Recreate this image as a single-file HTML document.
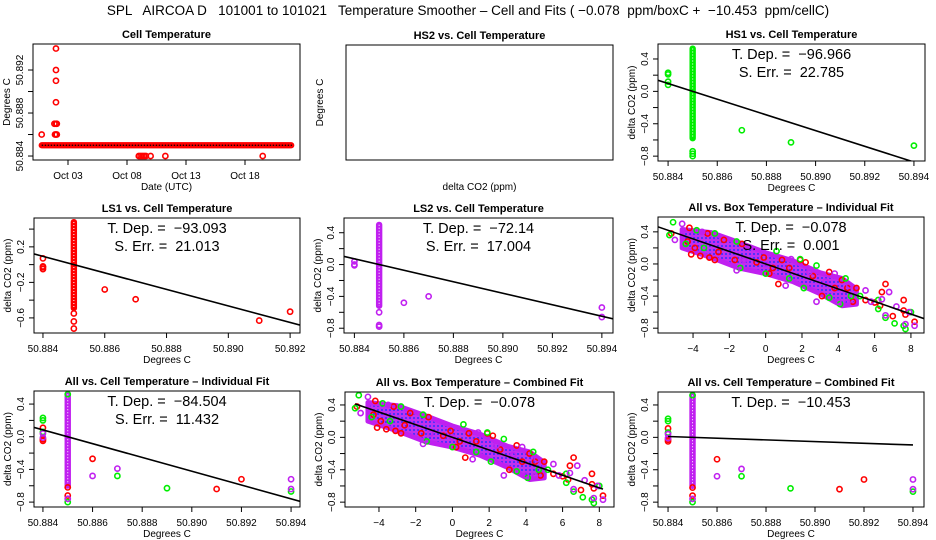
<!DOCTYPE html>
<html><head><meta charset="utf-8"><style>
html,body{margin:0;padding:0;background:#fff;}
svg{display:block;font-family:"Liberation Sans",Arial,sans-serif;}
text{white-space:pre;}
</style></head><body>
<svg id="chart" width="936" height="540" viewBox="0 0 936 540" xmlns="http://www.w3.org/2000/svg" xml:space="preserve">
<defs>
<pattern id="hatch" width="4" height="4" patternUnits="userSpaceOnUse">
<rect width="4" height="4" fill="#c030f0"/><circle cx="2" cy="2" r="1" fill="#3030ff"/>
</pattern>
</defs>
<text x="468" y="15" font-size="13.5" text-anchor="middle">SPL   AIRCOA D   101001 to 101021   Temperature Smoother – Cell and Fits ( −0.078  ppm/boxC +  −10.453  ppm/cellC)</text>
</svg>
<script>
// ---------- data ----------
const cellBaseValue = 50.885;
const cellBaseStart = 0.77, cellBaseEnd = 21.98;
const cellOutDays = [0.77, 1.98, 1.98, 1.98, 1.98, 1.98, 1.85, 2.05, 1.98, 1.9, 2.05, 9.0, 9.15, 9.3, 9.45, 9.6, 10.0, 11.25, 19.5];
const cellOutVals = [50.886, 50.894, 50.892, 50.891, 50.889, 50.887, 50.887, 50.887, 50.886, 50.886, 50.886, 50.884, 50.884, 50.884, 50.884, 50.884, 50.884, 50.884, 50.884];
const p1XTicks = [3, 8, 13, 18];
const p1XLabels = ["Oct 03", "Oct 08", "Oct 13", "Oct 18"];
const p1YTicks = [50.884, 50.886, 50.888, 50.890, 50.892];
const p1YLabels = ["50.884", "", "50.888", "", "50.892"];

const cellXTicks = [50.884, 50.886, 50.888, 50.890, 50.892, 50.894];
const cellXLabels = ["50.884", "50.886", "50.888", "50.890", "50.892", "50.894"];
const dcoYTicks = [0.4, 0.2, 0.0, -0.2, -0.4, -0.6, -0.8];
const dcoYLabels = ["0.4", "", "0.0", "", "−0.4", "", "−0.8"];
const ls1XTicks = [50.884, 50.886, 50.888, 50.890, 50.892];
const ls1XLabels = ["50.884", "50.886", "50.888", "50.890", "50.892"];
const ls1YTicks = [0.4, 0.2, 0.0, -0.2, -0.4, -0.6];
const ls1YLabels = ["", "0.2", "", "−0.2", "", "−0.6"];

const hs1X = [50.884, 50.884, 50.884, 50.884, 50.885, 50.885, 50.885, 50.887, 50.889, 50.894];
const hs1Y = [0.23, 0.21, 0.12, 0.08, -0.74, -0.77, -0.80, -0.48, -0.63, -0.67];
const hs1Col = [-0.58, 0.53];
const hs1Slope = -96.966, hs1Err = 22.785;
const ls1X = [50.884, 50.884, 50.884, 50.884, 50.885, 50.885, 50.885, 50.886, 50.887, 50.891, 50.892];
const ls1Y = [0.07, -0.02, -0.03, -0.05, -0.55, -0.64, -0.72, -0.28, -0.39, -0.63, -0.53];
const ls1Col = [-0.49, 0.48];
const ls1Slope = -93.093, ls1Err = 21.013;
const ls2X = [50.884, 50.884, 50.884, 50.885, 50.885, 50.885, 50.886, 50.887, 50.894, 50.894];
const ls2Y = [0.04, 0.0, -0.01, -0.6, -0.76, -0.78, -0.48, -0.40, -0.54, -0.66];
const ls2Col = [-0.52, 0.5];
const ls2Slope = -72.14, ls2Err = 17.004;
const allRedX = [50.884, 50.884, 50.884, 50.886, 50.891, 50.892, 50.885, 50.885];
const allRedY = [0.11, -0.05, -0.03, -0.27, -0.64, -0.52, -0.62, -0.72];
const allGreenX = [50.884, 50.884, 50.884, 50.887, 50.889, 50.894, 50.885, 50.885];
const allGreenY = [0.23, 0.2, 0.06, -0.48, -0.63, -0.67, -0.8, 0.52];
const allPurpleX = [50.884, 50.884, 50.886, 50.887, 50.894, 50.894, 50.885];
const allPurpleY = [0.04, -0.01, -0.48, -0.39, -0.52, -0.64, -0.76];
const allCol = [-0.6, 0.52];
const allIndSlope = -84.504, allIndErr = 11.432;
const allCombSlope = -10.453;

const boxXTicks = [-4, -2, 0, 2, 4, 6, 8];
const boxXLabels = ["−4", "−2", "0", "2", "4", "6", "8"];
const boxRedX = [-5.2, -4.2, -4.1, -3.6, -3.2, -3.1, -2.8, -2.3, -1.7, -1.3, -0.1, 0.2, 0.9, 0.7, 1.3, 1.9, 2.2, 3.1, 3.5, 4.2, 4.5, 5.0, 5.5, 6.0, 6.4, 6.6, 7.0, 7.6, 7.6, 7.7, 8.2, 6.3, 4.8, -4.3, -3.9, -2.6, -0.5, 0.4, 2.6, 3.8];
const boxRedY = [0.38, 0.45, 0.12, 0.1, 0.38, 0.08, 0.05, 0.3, 0.05, 0.25, 0.08, -0.12, 0.05, -0.25, -0.05, 0.05, 0.02, -0.4, -0.1, -0.2, -0.3, -0.3, -0.45, -0.48, -0.35, -0.25, -0.65, -0.45, -0.58, -0.63, -0.72, -0.52, -0.47, 0.28, 0.2, 0.15, 0.02, -0.05, -0.15, -0.3];
const boxGreenX = [-5.3, -5.1, -4.4, -3.8, -2.8, -1.6, -1.4, 0.6, 0.0, 1.3, 1.9, 2.1, 2.8, 3.5, 4.1, 4.7, 5.2, 6.2, 6.2, 6.6, 7.1, 7.6, 7.7, 8.0, -3.4, 4.4];
const boxGreenY = [0.36, 0.52, 0.25, 0.42, 0.38, 0.28, -0.05, 0.16, -0.12, -0.18, 0.06, -0.3, -0.02, -0.42, -0.5, -0.4, -0.4, -0.45, -0.56, -0.67, -0.74, -0.77, -0.81, -0.6, 0.2, -0.18];
const boxPurpleX = [-5.0, -4.6, -1.6, -1.2, 0.0, 1.1, 1.4, 2.8, 3.8, 4.0, 4.5, 5.5, 5.8, 6.4, 6.6, 6.8, 7.2, 7.7, 7.9, 8.2, -3.5, 2.4, 3.3, 4.6];
const boxPurpleY = [0.3, 0.5, -0.08, 0.05, 0.0, -0.27, 0.06, -0.47, -0.12, -0.47, -0.48, -0.33, -0.47, -0.44, -0.64, -0.35, -0.53, -0.75, -0.6, -0.77, 0.4, -0.1, -0.22, -0.27];
const bandX = [-4.6, -3.0, -1.5, 0.0, 1.5, 3.0, 4.2, 5.0];
const bandHi = [0.43, 0.39, 0.27, 0.14, 0.04, -0.11, -0.18, -0.31];
const bandLo = [0.2, 0.08, -0.05, -0.12, -0.22, -0.37, -0.52, -0.5];
const boxSlope = -0.078, boxErr = 0.001;

// ---------- drawing ----------
const NS = "http://www.w3.org/2000/svg";
const svg = document.getElementById("chart");
function mk(tag, attrs, parent) {
  const e = document.createElementNS(NS, tag);
  for (const k in attrs) e.setAttribute(k, attrs[k]);
  (parent || svg).appendChild(e);
  return e;
}
function scale(d0, d1, r0, r1) { return v => r0 + (v - d0) / (d1 - d0) * (r1 - r0); }

function panel(c) {
  const g = mk("g", {});
  
  
  c.sx = scale(c.xd[0], c.xd[1], c.l, c.r);
  c.sy = scale(c.yd[0], c.yd[1], c.b, c.t);
  c.g = g;
  let t = mk("text", {x: (c.l + c.r) / 2, y: c.t - 6, "font-size": 11, "font-weight": "bold", "text-anchor": "middle"}, g);
  t.textContent = c.title;
  
  
  let xl = mk("text", {x: (c.l + c.r) / 2, y: c.b + 30, "font-size": 10, "text-anchor": "middle"}, g);
  xl.textContent = c.xlab;
  
  
  const yx = c.l - 23, yy = (c.t + c.b) / 2;
  let yl = mk("text", {x: yx, y: yy, "font-size": 10, "text-anchor": "middle", transform: `rotate(-90 ${yx} ${yy})`}, g);
  yl.textContent = c.ylab;
  
  
  const clip = mk("clipPath", {id: c.name + "-clip"}, g);
  mk("rect", {x: c.l, y: c.t, width: c.r - c.l, height: c.b - c.t}, clip);
  c.plot = mk("g", {"clip-path": `url(#${c.name}-clip)`}, g);
  
  
  if (c.xticks) {
    const xs = c.xticks.map(c.sx);
    const ax = mk("line", {x1: xs[0], x2: xs[xs.length - 1], y1: c.b, y2: c.b, stroke: "#000"}, g);
    
    
    c.xticks.forEach((v, i) => {
      const x = c.sx(v);
      const tk = mk("line", {x1: x, x2: x, y1: c.b, y2: c.b + 5, stroke: "#000"}, g);
      
      
      if (c.xlabels[i]) {
        const lb = mk("text", {x: x, y: c.b + 19, "font-size": 10, "text-anchor": "middle"}, g);
        lb.textContent = c.xlabels[i];
        
        
      }
    });
  }
  if (c.yticks) {
    const ys = c.yticks.map(c.sy);
    const ay = mk("line", {x1: c.l, x2: c.l, y1: ys[0], y2: ys[ys.length - 1], stroke: "#000"}, g);
    
    
    c.yticks.forEach((v, i) => {
      const y = c.sy(v);
      const tk = mk("line", {x1: c.l - 5, x2: c.l, y1: y, y2: y, stroke: "#000"}, g);
      
      
      if (c.ylabels[i]) {
        const lx = c.l - 10;
        const lb = mk("text", {x: lx, y: y, "font-size": 10, "text-anchor": "middle", transform: `rotate(-90 ${lx} ${y})`}, g);
        lb.textContent = c.ylabels[i];
        
        
      }
    });
  }
  const box = mk("rect", {x: c.l, y: c.t, width: c.r - c.l, height: c.b - c.t, fill: "none", stroke: "#000"}, g);
  
  
  return c;
}
function points(c, xs, ys, color, name) {
  xs.forEach((v, i) => {
    const p = mk("circle", {cx: c.sx(v), cy: c.sy(ys[i]), r: 2.6, fill: "none", stroke: color, "stroke-width": 1.6}, c.plot);
    
    
  });
}
function column(c, xv, range, color, name) {
  const x = c.sx(xv), y0 = c.sy(range[1]), y1 = c.sy(range[0]);
  const r = mk("rect", {x: x - 3.2, y: y0 - 3, width: 6.4, height: y1 - y0 + 6, fill: color, rx: 3}, c.plot);
  
  
  const w = mk("line", {x1: x, x2: x, y1: y0, y2: y1, stroke: "#fff", "stroke-width": 1, "stroke-dasharray": "1 2"}, c.plot);
  
  
}
function fitLine(c, slope, x0, y0, xa, xb) {
  const a = xa === undefined ? c.xd[0] : xa, b = xb === undefined ? c.xd[1] : xb;
  const l = mk("line", {x1: c.sx(a), y1: c.sy(y0 + slope * (a - x0)), x2: c.sx(b), y2: c.sy(y0 + slope * (b - x0)), stroke: "#000", "stroke-width": 1.6}, c.plot);
  
  
}
function note(c, lines) {
  lines.forEach((s, i) => {
    const t = mk("text", {x: (c.l + c.r) / 2, y: c.t + 15 + i * 18, "font-size": 14.5, "text-anchor": "middle"}, c.g);
    t.textContent = s;
    
    
  });
}
const fmt = v => (v < 0 ? "−" : "") + Math.abs(v);
const CELLX = [50.88359, 50.89445], YD1 = [-0.86, 0.585], YD3 = [-0.86, 0.56], BOXX = [-5.93, 8.72];
const R = "#ff0000", G = "#00ee00", P = "#c020f0";

const p1 = panel({name: "cell-temperature-panel", l: 33, r: 300, t: 44, b: 160, xd: [0.034, 22.66], yd: [50.88363, 50.89442],
  xticks: p1XTicks, xlabels: p1XLabels, yticks: p1YTicks, ylabels: p1YLabels, title: "Cell Temperature", xlab: "Date (UTC)", ylab: "Degrees C"});
for (let d = cellBaseStart; d <= cellBaseEnd + 1e-9; d += 0.09) {
  const p = mk("circle", {cx: p1.sx(d), cy: p1.sy(cellBaseValue), r: 2.4, fill: "none", stroke: R, "stroke-width": 1.4}, p1.plot);
  
  
}
const bl = mk("line", {x1: p1.sx(cellBaseStart), x2: p1.sx(cellBaseEnd), y1: p1.sy(cellBaseValue), y2: p1.sy(cellBaseValue), stroke: "#000", "stroke-width": 1.2, "stroke-dasharray": "1.5 1.5"}, p1.plot);


points(p1, cellOutDays, cellOutVals, R, 'cell-temp-point');

panel({name: "hs2-panel", l: 346, r: 613, t: 45, b: 160, xd: [0, 1], yd: [0, 1], title: "HS2 vs. Cell Temperature", xlab: "delta CO2 (ppm)", ylab: "Degrees C"});

const p3 = panel({name: "hs1-panel", l: 658, r: 925, t: 44, b: 161, xd: CELLX, yd: YD1, xticks: cellXTicks, xlabels: cellXLabels, yticks: dcoYTicks, ylabels: dcoYLabels,
  title: "HS1 vs. Cell Temperature", xlab: "Degrees C", ylab: "delta CO2 (ppm)"});
column(p3, 50.885, hs1Col, G, 'hs1-column');
points(p3, hs1X, hs1Y, G, 'hs1-point');
fitLine(p3, hs1Slope, 50.885, 0);
note(p3, ["T. Dep. =  " + fmt(hs1Slope), "S. Err. =  " + hs1Err]);

const p4 = panel({name: "ls1-panel", l: 34, r: 300, t: 218, b: 333, xd: [50.88371, 50.89232], yd: [-0.77, 0.525], xticks: ls1XTicks, xlabels: ls1XLabels, yticks: ls1YTicks, ylabels: ls1YLabels,
  title: "LS1 vs. Cell Temperature", xlab: "Degrees C", ylab: "delta CO2 (ppm)"});
column(p4, 50.885, ls1Col, R, 'ls1-column');
points(p4, ls1X, ls1Y, R, 'ls1-point');
fitLine(p4, ls1Slope, 50.885, 0);
note(p4, ["T. Dep. =  " + fmt(ls1Slope), "S. Err. =  " + ls1Err]);

const p5 = panel({name: "ls2-panel", l: 344, r: 613, t: 218, b: 333, xd: [50.88358, 50.89445], yd: YD1, xticks: cellXTicks, xlabels: cellXLabels, yticks: dcoYTicks, ylabels: dcoYLabels,
  title: "LS2 vs. Cell Temperature", xlab: "Degrees C", ylab: "delta CO2 (ppm)"});
column(p5, 50.885, ls2Col, P, 'ls2-column');
points(p5, ls2X, ls2Y, P, 'ls2-point');
fitLine(p5, ls2Slope, 50.885, 0);
note(p5, ["T. Dep. =  " + fmt(ls2Slope), "S. Err. =  " + ls2Err]);

function boxCloud(c) {
  const pts = bandX.map((x, i) => c.sx(x) + "," + c.sy(bandHi[i])).concat(bandX.slice().reverse().map((x, i) => c.sx(x) + "," + c.sy(bandLo[bandX.length - 1 - i])));
  const poly = mk("polygon", {points: pts.join(" "), fill: "url(#hatch)", stroke: P, "stroke-width": 5, "stroke-linejoin": "round"}, c.plot);
  
  
  points(c, boxRedX, boxRedY, R, 'ls1-point');
  points(c, boxGreenX, boxGreenY, G, 'hs1-point');
  points(c, boxPurpleX, boxPurpleY, P, 'ls2-point');
}
const p6 = panel({name: "all-box-individual-panel", l: 658, r: 924, t: 217, b: 333, xd: BOXX, yd: YD1, xticks: boxXTicks, xlabels: boxXLabels, yticks: dcoYTicks, ylabels: dcoYLabels,
  title: "All vs. Box Temperature – Individual Fit", xlab: "Degrees C", ylab: "delta CO2 (ppm)"});
boxCloud(p6);
fitLine(p6, boxSlope, 0, 0);
note(p6, ["T. Dep. =  " + fmt(boxSlope), "S. Err. =  " + boxErr]);

function allCell(c) {
  column(c, 50.885, allCol, P, 'all-column');
  points(c, allRedX, allRedY, R, 'ls1-point');
  points(c, allGreenX, allGreenY, G, 'hs1-point');
  points(c, allPurpleX, allPurpleY, P, 'ls2-point');
}
const p7 = panel({name: "all-cell-individual-panel", l: 34, r: 300, t: 391, b: 507, xd: [50.88364, 50.89436], yd: YD3, xticks: cellXTicks, xlabels: cellXLabels, yticks: dcoYTicks, ylabels: dcoYLabels,
  title: "All vs. Cell Temperature – Individual Fit", xlab: "Degrees C", ylab: "delta CO2 (ppm)"});
allCell(p7);
fitLine(p7, allIndSlope, 50.885, 0);
note(p7, ["T. Dep. =  " + fmt(allIndSlope), "S. Err. =  " + allIndErr]);

const p8 = panel({name: "all-box-combined-panel", l: 345, r: 614, t: 392, b: 507, xd: [-5.85, 8.8], yd: YD3, xticks: boxXTicks, xlabels: boxXLabels, yticks: dcoYTicks, ylabels: dcoYLabels,
  title: "All vs. Box Temperature – Combined Fit", xlab: "Degrees C", ylab: "delta CO2 (ppm)"});
boxCloud(p8);
fitLine(p8, boxSlope, 0, 0, -5.3, 8.2);
note(p8, ["T. Dep. =  " + fmt(boxSlope)]);

const p9 = panel({name: "all-cell-combined-panel", l: 658, r: 924, t: 392, b: 507, xd: CELLX, yd: YD3, xticks: cellXTicks, xlabels: cellXLabels, yticks: dcoYTicks, ylabels: dcoYLabels,
  title: "All vs. Cell Temperature – Combined Fit", xlab: "Degrees C", ylab: "delta CO2 (ppm)"});
allCell(p9);
fitLine(p9, allCombSlope, 50.885, 0, 50.884, 50.894);
note(p9, ["T. Dep. =  " + fmt(allCombSlope)]);
</script>
</body></html>
